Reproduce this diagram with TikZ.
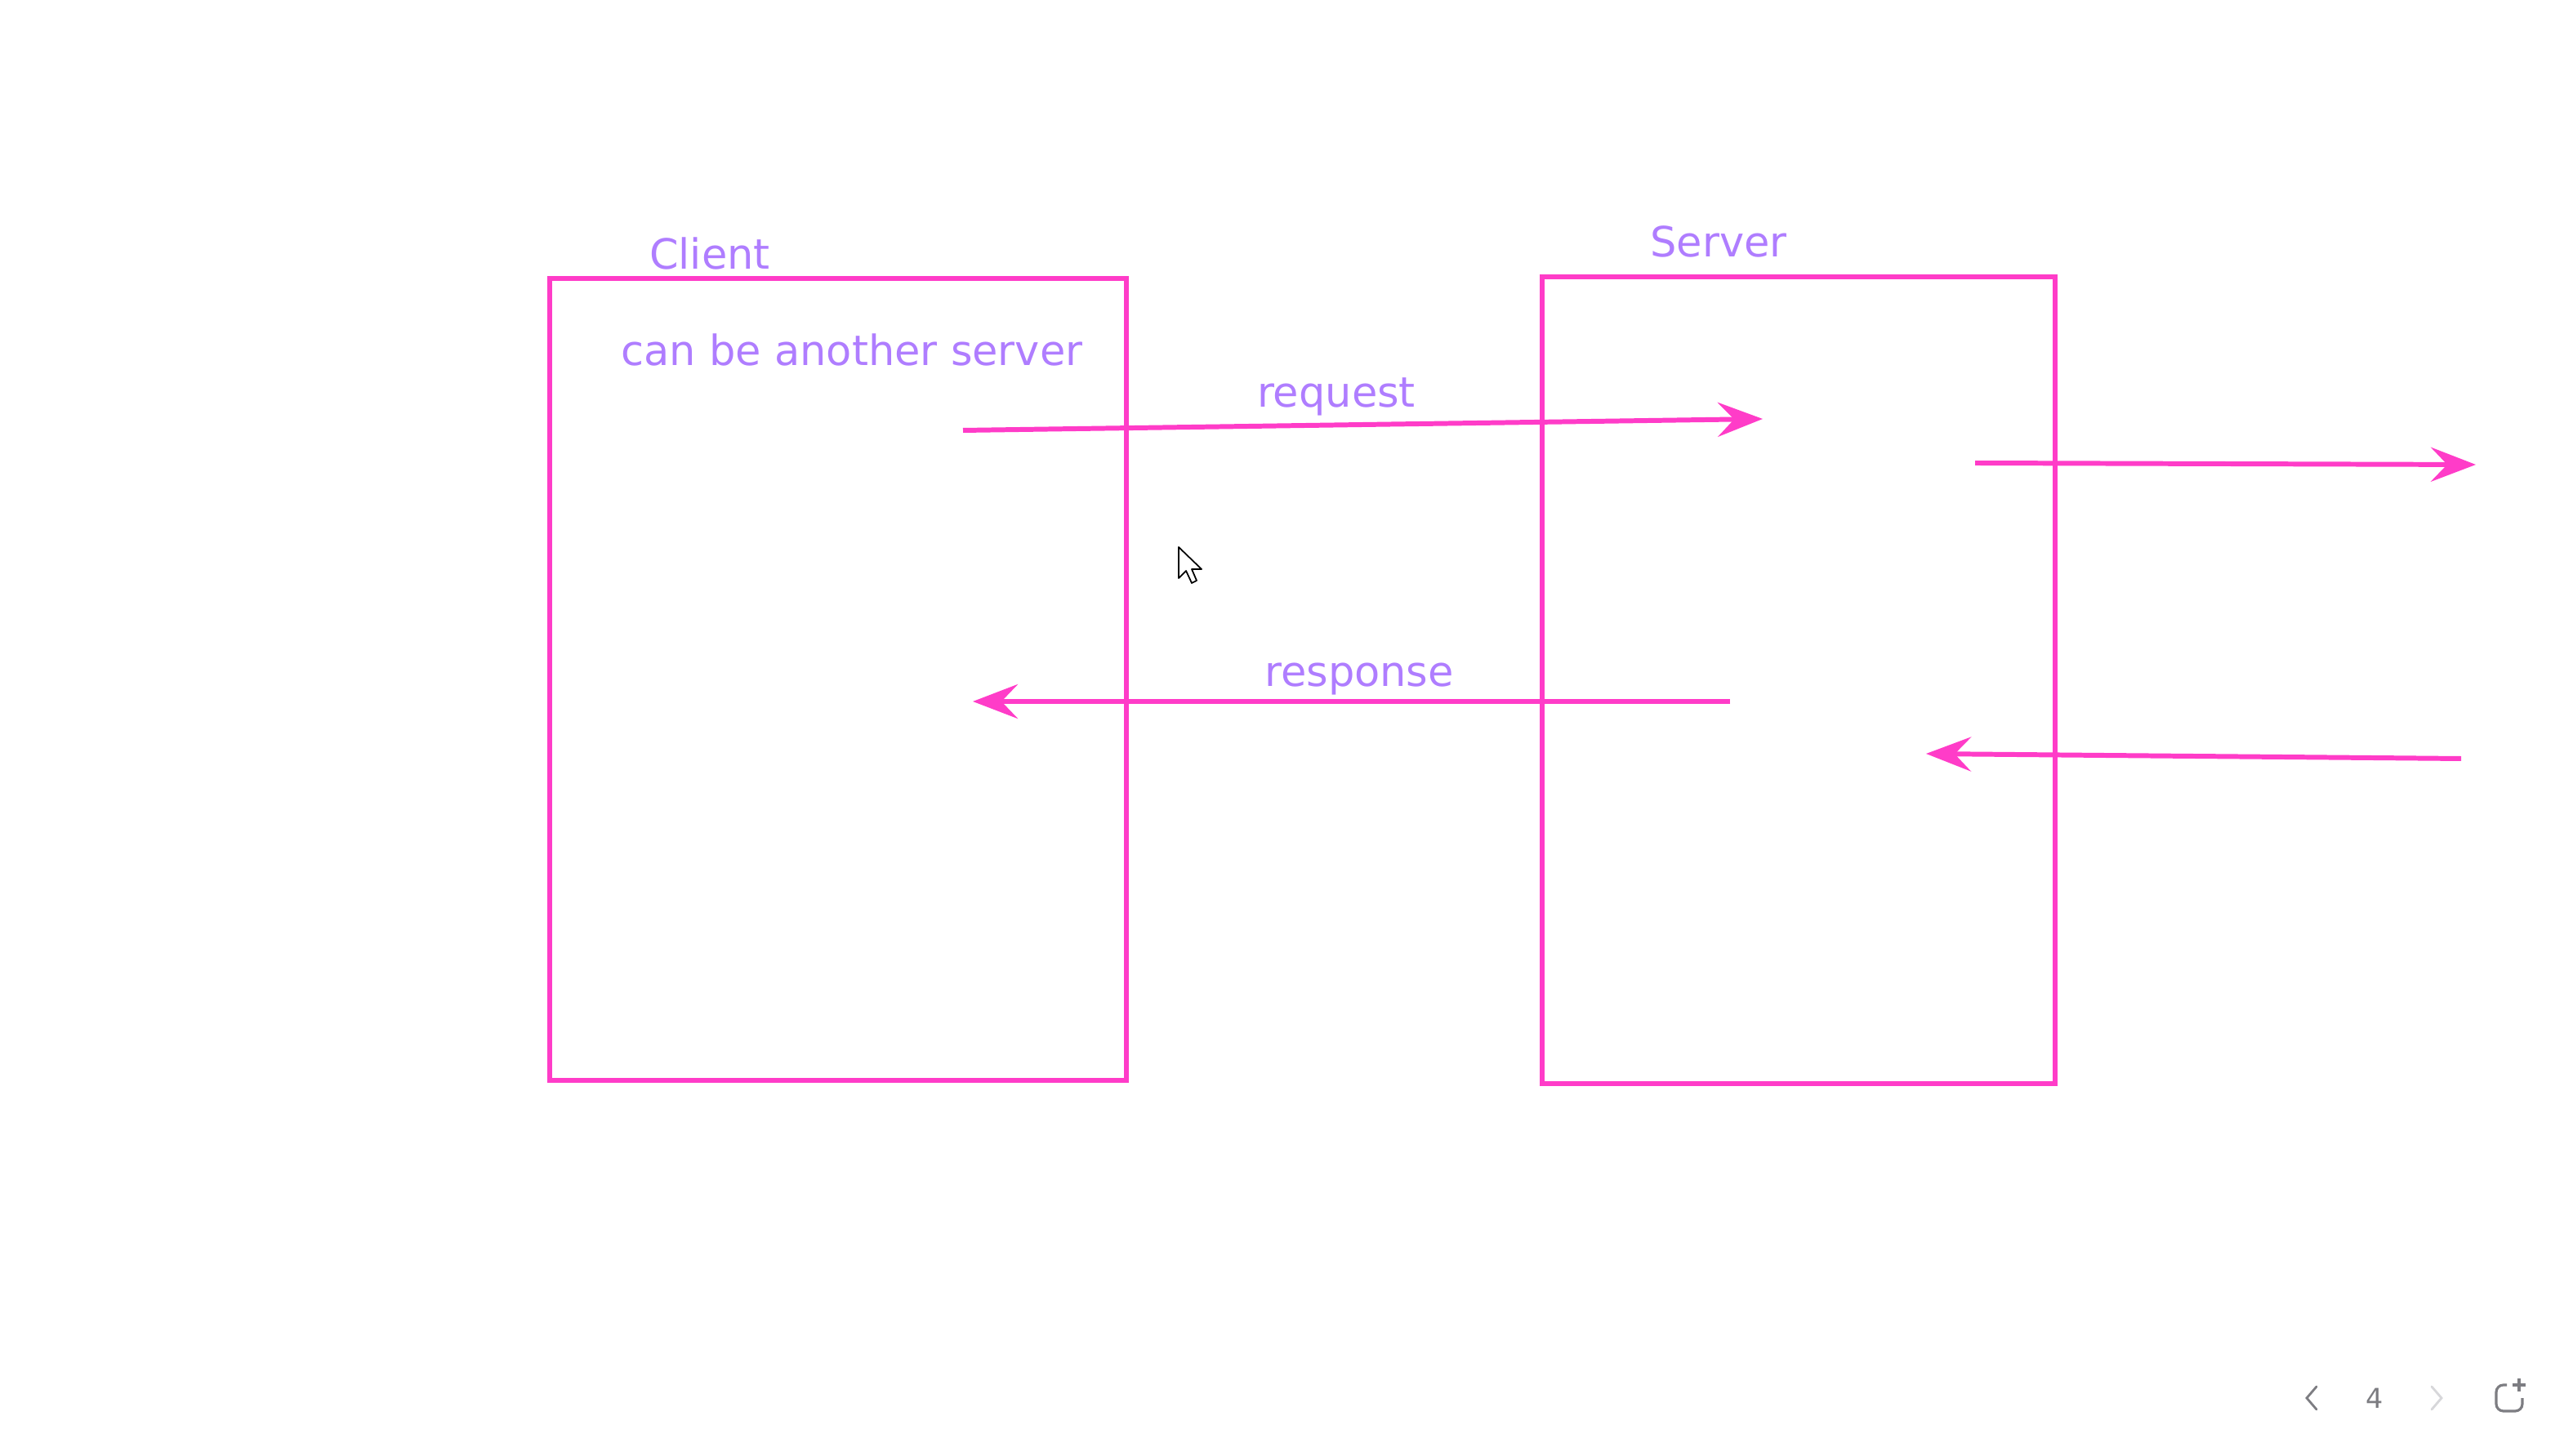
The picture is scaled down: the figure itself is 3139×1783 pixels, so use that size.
\documentclass[tikz,border=0pt]{standalone}
\usepackage{fontspec}
\setmainfont{DejaVu Sans}
\usetikzlibrary{arrows.meta}
\definecolor{linepink}{RGB}{255,60,200}
\definecolor{labelpurple}{RGB}{175,125,255}
\definecolor{uigray}{RGB}{125,125,130}
\definecolor{uilight}{RGB}{215,215,218}

\begin{document}
\begin{tikzpicture}[x=0.01cm,y=-0.01cm,
  box/.style={draw=linepink,line width=1.7pt,inner sep=0pt},
  label/.style={text=labelpurple,font=\fontsize{14.5}{17}\selectfont},
  flow/.style={draw=linepink,line width=1.7pt,-{Stealth[length=5.5mm,width=4.2mm,inset=2mm]}}]
% Page area
\fill[white] (0,0) rectangle (3139,1783);
\useasboundingbox (0,0) rectangle (3139,1783);
% Draw the two boxes
\node[box,minimum width=7.06cm,minimum height=9.81cm] (client) at (1026,832) {};
\node[box,minimum width=6.28cm,minimum height=9.87cm] (server) at (2202,833) {};
% Box titles and note
\node[label] (clientlabel) at (869,311) {Client};
\node[label] (serverlabel) at (2104,296) {Server};
\node[label] (note) at (1043,429) {can be another server};
% Arrow end points
\coordinate (reqstart) at (1179,527);
\coordinate (reqend) at (2158,513);
\coordinate (resstart) at (2118,859);
\coordinate (resend) at (1191,859);
\coordinate (outstart) at (2418,567);
\coordinate (outend) at (3031,569);
\coordinate (backstart) at (3013,929);
\coordinate (backend) at (2358,923);
% Draw the arrows
\draw[flow] (reqstart) -- (reqend);
\draw[flow] (resstart) -- (resend);
\draw[flow] (outstart) -- (outend);
\draw[flow] (backstart) -- (backend);
% Arrow labels
\node[label] (reqlabel) at (1636,486) {request};
\node[label] (reslabel) at (1664,832) {response};
% Mouse pointer
\filldraw[fill=white,draw=black,line width=0.5pt,line join=round]
  (1443,670) -- (1443,708) -- (1452,699) -- (1459,714) -- (1465,711) -- (1459,697) -- (1471,697) -- cycle;
% Page controls
\draw[uigray,line width=0.8pt,line cap=round] (2836,1698) -- (2824,1712) -- (2836,1726);
\node[text=uigray,font=\fontsize{9.5}{11}\selectfont] (pagenum) at (2907,1712) {4};
\draw[uilight,line width=0.8pt,line cap=round] (2977,1698) -- (2989,1712) -- (2977,1726);
\draw[uigray,line width=0.9pt,rounded corners=2.5pt] (3069,1696) -- (3056,1696) -- (3056,1728) -- (3088,1728) -- (3088,1712);
\draw[uigray,line width=0.9pt] (3084,1688) -- (3084,1704) (3076,1696) -- (3092,1696);
\end{tikzpicture}
\end{document}
